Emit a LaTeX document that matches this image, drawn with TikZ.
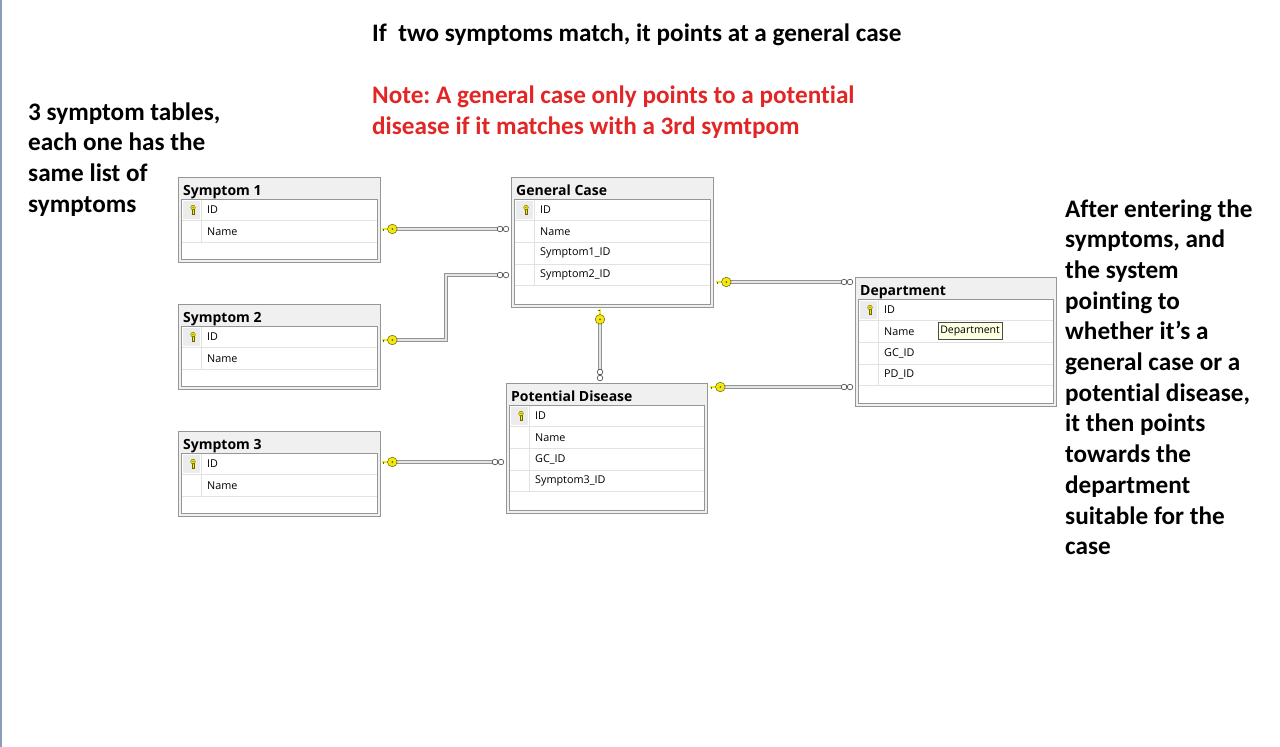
\documentclass[tikz,border=0pt]{standalone}
\usepackage{fontspec}
\setmainfont{Carlito}[Ligatures={TeX,NoCommon}]
\newfontfamily\tabfont{Open Sans}
\usetikzlibrary{calc}
\frenchspacing
\definecolor{notered}{RGB}{226,38,38}
\definecolor{keyyel}{RGB}{242,232,20}
\definecolor{keyedge}{RGB}{110,100,0}
\definecolor{tabedge}{RGB}{150,150,150}
\definecolor{tabbg}{RGB}{240,240,240}
\definecolor{keycell}{RGB}{236,236,236}
\definecolor{sepcol}{RGB}{226,226,226}
\definecolor{leftbar}{RGB}{140,155,185}
\definecolor{tipbg}{RGB}{255,255,225}
\tikzset{
  note/.style={font=\fontsize{25.2}{30.7}\selectfont\bfseries, inner sep=0pt, anchor=base west},
  tabouter/.style={rectangle, draw=tabedge, line width=1.3pt, fill=tabbg, inner sep=0pt},
  tabinner/.style={rectangle, draw=tabedge, line width=0.8pt, fill=white, inner sep=0pt},
  tabtitle/.style={font=\tabfont\fontsize{14}{16}\selectfont\bfseries, inner sep=0pt},
  rowtext/.style={font=\tabfont\fontsize{10.8}{13}\selectfont, inner sep=0pt},
  rowsep/.style={draw=sepcol, line width=0.6pt},
  rel/.style={draw=gray!85, line width=0.8pt, double=gray!20, double distance=1.6pt},
  keyshape/.style={fill=keyyel, draw=keyedge, line width=0.5pt},
  pics/keyend/.style={code={
    \draw[keyedge, line width=2.6pt] (-10,0) -- (-3,0);
    \draw[keyyel, line width=1.4pt] (-10,0) -- (-3,0);
    \draw[keyedge, line width=0.8pt] (-9,0) -- (-9,2.4);
    \path[keyshape] (0,0) circle (4.8pt);
    \fill[keyedge] (0,0) circle (1pt);
  }},
  pics/manyend/.style={code={
    \draw[black!75, fill=white, line width=0.6pt] (-11,0) circle (2.8pt);
    \draw[black!75, fill=white, line width=0.6pt] (-5,0) circle (2.8pt);
  }},
  pics/tkey/.style={code={
    \path[keyshape, line width=0.4pt] (-1,-0.5) rectangle (1,4.5);
    \path[keyshape, line width=0.4pt] (0,-2.5) circle (2.3pt);
    \fill[keyedge] (0,-2.5) circle (0.6pt);
  }}
}
\newcommand{\dbtab}[6]{%
  \node[tabouter, minimum width=#4pt, minimum height=#5pt, anchor=north west] (#1) at (#2,#3) {};
  \node[tabtitle, anchor=base west] (#1-t) at ($(#1.north west)+(5,18)$) {#6};
  \node[tabinner, minimum width=#4pt-6pt, minimum height=#5pt-25pt, anchor=north west] (#1-i) at ($(#1.north west)+(3,22)$) {};
  \fill[keycell] ($(#1-i.north west)+(2,2)$) rectangle ($(#1-i.north west)+(19,20)$);
  \pic at ($(#1-i.north west)+(12,11)$) {tkey};
}
\newcommand{\dbrow}[3]{%
  \node[rowtext, anchor=west] (#1-r#2) at ($(#1-i.north west)+(26,{11+21.6*#2})$) {#3};
  \draw[rowsep] ($(#1-i.north west)+(0.5,{21.6*(#2+1)})$) -- ($(#1-i.north east)+(-0.5,{21.6*(#2+1)})$);
}
\newcommand{\dbcol}[2]{%
  \draw[rowsep] ($(#1-i.north west)+(20,0.5)$) -- ($(#1-i.north west)+(20,{21.6*#2})$);
}
\begin{document}
\begin{tikzpicture}[x=1pt,y=-1pt]
\path[fill=white] (0,0) rectangle (1280,747);
\useasboundingbox (0,0) rectangle (1280,747);
\draw[leftbar, line width=1.6pt] (0.8,0) -- (0.8,747);

% notes
\node[note] (head) at (372,41) {If~ two symptoms match, it points at a general case};
\node[note, text=notered] (n1) at (372,103) {Note: A general case only points to a potential};
\node[note, text=notered] (n2) at (372,134) {disease if it matches with a 3rd symtpom};
\foreach \t [count=\i from 0] in {{3 symptom tables,},{each one has the},{same list of},{symptoms}}
  \node[note] (lt\i) at (28,{120+30.7*\i}) {\t};
\foreach \t [count=\i from 0] in {{After entering the},{symptoms, and},{the system},{pointing to},{whether it's a},{general case or a},{potential disease,},{it then points},{towards the},{department},{suitable for the},{case}}
  \node[note] (rt\i) at (1065,{217+30.7*\i}) {\t};

% tables
\dbtab{s1}{178}{177}{202}{85}{Symptom 1}
\dbcol{s1}{2}\dbrow{s1}{0}{ID}\dbrow{s1}{1}{Name}
\dbtab{s2}{178}{304}{202}{85}{Symptom 2}
\dbcol{s2}{2}\dbrow{s2}{0}{ID}\dbrow{s2}{1}{Name}
\dbtab{s3}{178}{431}{202}{85}{Symptom 3}
\dbcol{s3}{2}\dbrow{s3}{0}{ID}\dbrow{s3}{1}{Name}
\dbtab{gc}{511}{177}{202}{130}{General Case}
\dbcol{gc}{4}\dbrow{gc}{0}{ID}\dbrow{gc}{1}{Name}\dbrow{gc}{2}{Symptom1\_ID}\dbrow{gc}{3}{Symptom2\_ID}
\dbtab{pd}{506}{383}{201}{130}{Potential Disease}
\dbcol{pd}{4}\dbrow{pd}{0}{ID}\dbrow{pd}{1}{Name}\dbrow{pd}{2}{GC\_ID}\dbrow{pd}{3}{Symptom3\_ID}
\dbtab{dp}{855}{277}{201}{129}{Department}
\dbcol{dp}{4}\dbrow{dp}{0}{ID}\dbrow{dp}{1}{Name}\dbrow{dp}{2}{GC\_ID}\dbrow{dp}{3}{PD\_ID}
\node[draw=black!70, fill=tipbg, line width=0.5pt, font=\tabfont\fontsize{10.5}{12}\selectfont, inner sep=2pt, minimum height=17pt, anchor=west] (tip) at (938,331) {Department};

% connectors
\coordinate (bend2) at (446,340);
\draw[rel] ($(s1.east|-0,229)+(11,0)$) -- ($(gc.west|-0,229)+(-8,0)$);
\draw[rel] ($(s2.east|-0,340)+(11,0)$) -- (bend2) |- ($(gc.west|-0,275)+(-8,0)$);
\draw[rel] ($(s3.east|-0,462)+(11,0)$) -- ($(pd.west|-0,462)+(-8,0)$);
\draw[rel] ($(gc.east|-0,282)+(12,0)$) -- ($(dp.west|-0,282)+(-8,0)$);
\draw[rel] ($(pd.east|-0,387)+(12,0)$) -- ($(dp.west|-0,387)+(-8,0)$);
\draw[rel] ($(gc.south-|600,0)+(0,11)$) -- ($(pd.north-|600,0)+(0,-8)$);

% end markers
\pic at ($(s1.east|-0,229)+(11,0)$) {keyend};
\pic at ($(s2.east|-0,340)+(11,0)$) {keyend};
\pic at ($(s3.east|-0,462)+(11,0)$) {keyend};
\pic at ($(gc.east|-0,282)+(12,0)$) {keyend};
\pic at ($(pd.east|-0,387)+(12,0)$) {keyend};
\pic[rotate=-90] at ($(gc.south-|600,0)+(0,11)$) {keyend};
\pic at (gc.west|-0,229) {manyend};
\pic at (gc.west|-0,275) {manyend};
\pic at (pd.west|-0,462) {manyend};
\pic at (dp.west|-0,282) {manyend};
\pic at (dp.west|-0,387) {manyend};
\pic[rotate=-90] at (pd.north-|600,0) {manyend};
\end{tikzpicture}
\end{document}
